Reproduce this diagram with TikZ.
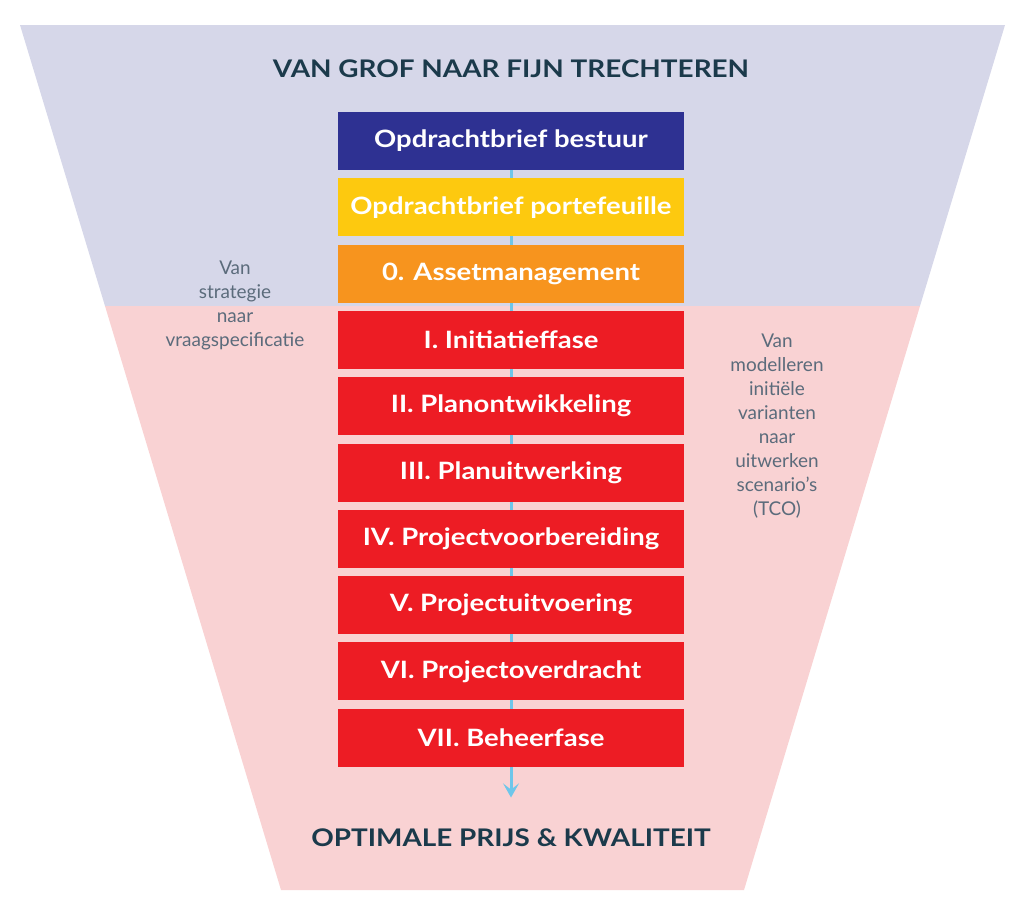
\documentclass[tikz,border=0pt]{standalone}
\usepackage{fontspec}
\setmainfont{Lato}
\newfontfamily\breed{Lato}[FakeStretch=1.15]
\usetikzlibrary{arrows.meta,positioning,backgrounds}

\definecolor{funneltop}{HTML}{D6D7E9}
\definecolor{funnelbot}{HTML}{F9D2D3}
\definecolor{navy}{HTML}{2E3192}
\definecolor{geel}{HTML}{FDC90F}
\definecolor{oranje}{HTML}{F7941E}
\definecolor{rood}{HTML}{ED1C24}
\definecolor{donker}{HTML}{1B3A4B}
\definecolor{grijs}{HTML}{5B6B7B}
\definecolor{lijn}{HTML}{6EC6EA}

\tikzset{
  fase/.style={minimum width=6.92cm,minimum height=1.16cm,inner sep=0pt,
               text=white,font=\breed\fontsize{13.6}{16}\selectfont\bfseries},
  kop/.style={text=donker,font=\breed\fontsize{13.8}{16}\selectfont\bfseries},
  zij/.style={text=grijs,align=center,font=\fontsize{10.8}{13.66}\selectfont}
}

\begin{document}
\begin{tikzpicture}[>=Stealth,node distance=1.326cm,on grid]
\useasboundingbox (0,0) rectangle (20.56,-17.94);
  \node[kop]                     (titel) at (10.22,-1.38)  {VAN GROF NAAR FIJN TRECHTEREN};
  \node[fase,fill=navy]          (b1)    at (10.22,-2.82)  {Opdrachtbrief bestuur};
  \node[fase,fill=geel]          (b2)    [below =of b1]    {Opdrachtbrief portefeuille};
  \node[fase,fill=oranje]        (b3)    [below =of b2]    {0. Assetmanagement};
  \node[fase,fill=rood]          (f1)    [below =of b3]    {I. Initiatieffase};
  \node[fase,fill=rood]          (f2)    [below =of f1]    {II. Planontwikkeling};
  \node[fase,fill=rood]          (f3)    [below =of f2]    {III. Planuitwerking};
  \node[fase,fill=rood]          (f4)    [below =of f3]    {IV. Projectvoorbereiding};
  \node[fase,fill=rood]          (f5)    [below =of f4]    {V. Projectuitvoering};
  \node[fase,fill=rood]          (f6)    [below =of f5]    {VI. Projectoverdracht};
  \node[fase,fill=rood]          (f7)    [below =of f6]    {VII. Beheerfase};
  \node[kop]                     (eind)  at (10.22,-16.76) {OPTIMALE PRIJS \& KWALITEIT};
  \node[zij]                     (links) at (4.7,-6.1)     {Van\\strategie\\naar\\vraagspecificatie};
  \node[zij]                     (rechts) at (15.54,-8.52) {Van\\modelleren\\initiële\\varianten\\naar\\uitwerken\\scenario’s\\(TCO)};
  \coordinate                    (pijl)  at (10.22,-15.95);
\begin{scope}[on background layer]
  % trechter in twee delen
  \fill[funneltop] (0.4,-0.5) -- (20.1,-0.5) -- (18.4,-6.12) -- (2.1,-6.12) -- cycle;
  \fill[funnelbot] (2.1,-6.12) -- (18.4,-6.12) -- (14.88,-17.8) -- (5.62,-17.8) -- cycle;
  \draw[lijn,line width=1.7pt,-{Stealth[length=8pt,width=9pt,inset=3.5pt]}] (b1.center) -- (pijl);
\end{scope}
\end{tikzpicture}
\end{document}
